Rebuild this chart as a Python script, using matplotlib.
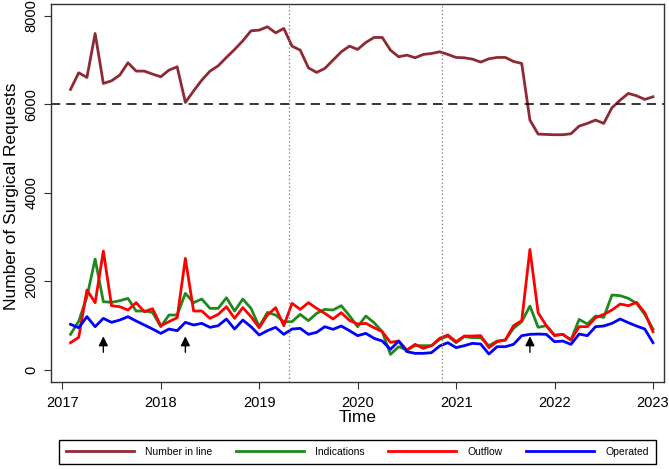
import numpy as np
import matplotlib
matplotlib.use("Agg")
import matplotlib.pyplot as plt

plt.rcParams['font.family'] = ['Liberation Sans', 'DejaVu Sans']

# Monthly series, Feb 2017 .. Jan 2023
start_year, start_month, n_months = 2017, 2, 72

number_in_line = [6335, 6711, 6606, 7599, 6470, 6530, 6658, 6937, 6749, 6749, 6681, 6621,
                  6771, 6846, 6041, 6300, 6545, 6748, 6869, 7057, 7237, 7433, 7659, 7674,
                  7750, 7613, 7712, 7313, 7222, 6823, 6719, 6809, 6997, 7184, 7313, 7238,
                  7396, 7508, 7508, 7222, 7072, 7110, 7050, 7125, 7147, 7185, 7125, 7057,
                  7050, 7019, 6952, 7027, 7057, 7057, 6967, 6922, 5643, 5327, 5319, 5312,
                  5312, 5334, 5507, 5568, 5643, 5568, 5921, 6094, 6245, 6192, 6109, 6169]

indications = [805, 1100, 1650, 2505, 1542, 1527, 1565, 1617, 1332, 1332, 1301, 978,
               1241, 1241, 1730, 1520, 1602, 1392, 1392, 1632, 1332, 1602, 1392, 978,
               1301, 1241, 1091, 1091, 1256, 1113, 1279, 1369, 1354, 1452, 1226, 978,
               1219, 1068, 865, 353, 526, 451, 549, 549, 549, 692, 767, 617,
               752, 730, 730, 549, 654, 677, 940, 1091, 1444, 963, 1000, 790,
               805, 677, 1143, 1038, 1219, 1189, 1693, 1678, 1617, 1505, 1256, 925]

outflow = [617, 737, 1806, 1520, 2686, 1452, 1429, 1354, 1520, 1316, 1384, 1000,
           1091, 1181, 2520, 1332, 1332, 1166, 1256, 1429, 1166, 1407, 1204, 955,
           1241, 1407, 1000, 1505, 1369, 1520, 1392, 1279, 1151, 1294, 1121, 1038,
           1053, 955, 865, 624, 654, 451, 579, 489, 549, 715, 790, 639,
           767, 767, 775, 504, 639, 677, 1000, 1113, 2723, 1294, 1000, 775,
           805, 677, 978, 978, 1181, 1256, 1354, 1489, 1452, 1527, 1294, 865]

operated = [1031, 955, 1204, 978, 1166, 1076, 1128, 1204, 1106, 1016, 925, 827,
            925, 888, 1076, 1016, 1053, 963, 1000, 1151, 925, 1128, 978, 790,
            888, 963, 805, 925, 940, 805, 850, 978, 918, 993, 888, 775,
            827, 715, 654, 466, 654, 414, 376, 376, 391, 542, 617, 504,
            549, 602, 587, 361, 526, 526, 579, 775, 805, 812, 805, 639,
            654, 579, 812, 775, 978, 993, 1053, 1151, 1068, 993, 925, 617]

labels = ["Number in line", "Indications", "Outflow", "Operated"]
colors = ["#8E2A33", "#1E8A1E", "#FF0000", "#0000FF"]

reference_level = 6000
event_lines = [2019.30, 2020.86]
arrow_months = [4, 14, 56]
x_ticks = [2017, 2018, 2019, 2020, 2021, 2022, 2023]
y_ticks = [0, 2000, 4000, 6000, 8000]

t = start_year + (start_month - 1 + np.arange(n_months)) / 12.0

fig = plt.figure(figsize=(6.69, 4.69), dpi=100)
ax = fig.add_axes([51 / 669, 1 - 382 / 469, (664 - 51) / 669, (382 - 4) / 469])

series = [number_in_line, indications, outflow, operated]
handles = []
for vals, lab, col in zip(series, labels, colors):
    h, = ax.plot(t, vals, color=col, lw=2.0, label=lab, solid_joinstyle='round')
    handles.append(h)

ax.axhline(reference_level, color='black', lw=1.1, ls=(0, (6, 4)))
for xv in event_lines:
    ax.axvline(xv, color='#777777', lw=0.9, ls=(0, (1, 2)))

for m in arrow_months:
    ax.annotate('', xy=(t[m], 760), xytext=(t[m], 400),
                arrowprops=dict(arrowstyle='-|>', color='black', lw=1.0,
                                mutation_scale=14, shrinkA=0, shrinkB=0))

ax.set_xlim(2016.885, 2023.112)
ax.set_ylim(-271, 8264)
ax.set_xticks(x_ticks)
ax.set_yticks(y_ticks)
ax.set_xticklabels([str(v) for v in x_ticks], fontsize=10.5)
ax.set_yticklabels([str(v) for v in y_ticks], fontsize=10.5, rotation=90, va='center')
ax.tick_params(axis='both', direction='out', length=5, width=0.8, color='#333333')
ax.tick_params(axis='x', pad=5)
ax.tick_params(axis='y', pad=4)
for sp in ax.spines.values():
    sp.set_color('#333333')
    sp.set_linewidth(1.0)

fig.text(357.5 / 669, 1 - 417 / 469, "Time", fontsize=12.5, ha='center', va='center')
fig.text(12 / 669, 1 - 196 / 469, "Number of Surgical Requests", fontsize=12.5,
         ha='center', va='center', rotation=90)

leg = fig.legend(handles, labels, ncol=4, loc='center',
                 bbox_to_anchor=(59 / 669, 1 - 468 / 469, (656 - 59) / 669, 32 / 469),
                 mode='expand', fontsize=7.5, handlelength=6.5, handletextpad=1.1,
                 frameon=True, fancybox=False, edgecolor='black', framealpha=1,
                 borderaxespad=0, borderpad=0.7)
leg.get_frame().set_linewidth(1.0)

fig.savefig("out.png", dpi=100)
